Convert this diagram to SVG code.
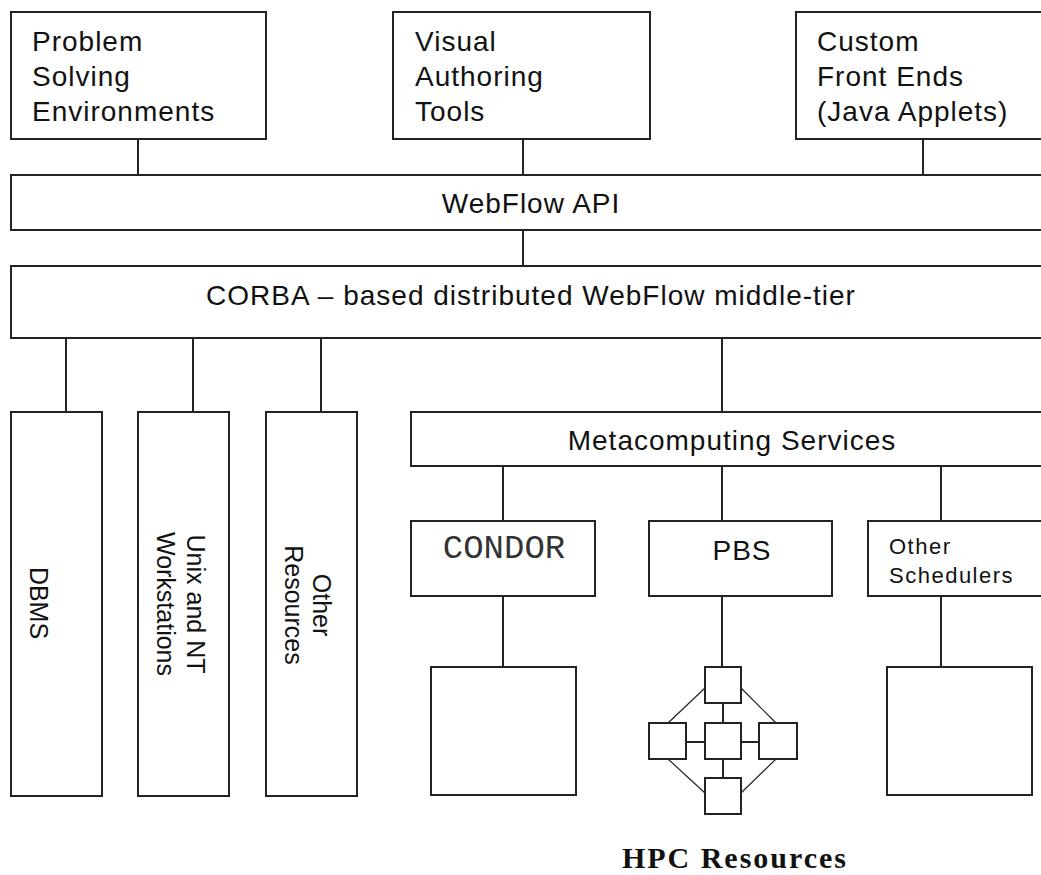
<svg xmlns="http://www.w3.org/2000/svg" width="1041" height="875" viewBox="0 0 1041 875">
  <style>
    .box { fill: #fff; stroke: #222; stroke-width: 2; }
    .ln { stroke: #222; stroke-width: 2; fill: none; }
    .thin { stroke: #222; stroke-width: 1.2; fill: none; }
    .t { font-family: "Liberation Sans", Arial, sans-serif; font-size: 28px; letter-spacing: 1px; fill: #111; }
    .tc { font-family: "Liberation Sans", Arial, sans-serif; font-size: 28px; letter-spacing: 1px; fill: #111; text-anchor: middle; }
    .tr { font-family: "Liberation Sans", Arial, sans-serif; font-size: 25px; fill: #111; text-anchor: middle; }
    .ts { font-family: "Liberation Sans", Arial, sans-serif; font-size: 22px; letter-spacing: 1.5px; fill: #111; }
    .mono { font-family: "Liberation Mono", "Courier New", monospace; font-size: 34px; fill: #333; text-anchor: middle; }
    .serif { font-family: "Liberation Serif", "Times New Roman", serif; font-size: 30px; font-weight: bold; fill: #111; }
  </style>
  <rect width="1041" height="875" fill="#fff"/>

  <g id="connectors">
    <line class="ln" x1="138" y1="139" x2="138" y2="175"/>
    <line class="ln" x1="523" y1="139" x2="523" y2="175"/>
    <line class="ln" x1="923" y1="139" x2="923" y2="175"/>
    <line class="ln" x1="523" y1="230" x2="523" y2="266"/>
    <line class="ln" x1="66" y1="338" x2="66" y2="412"/>
    <line class="ln" x1="193" y1="338" x2="193" y2="412"/>
    <line class="ln" x1="321" y1="338" x2="321" y2="412"/>
    <line class="ln" x1="722" y1="338" x2="722" y2="412"/>
    <line class="ln" x1="503" y1="466" x2="503" y2="521"/>
    <line class="ln" x1="722" y1="466" x2="722" y2="521"/>
    <line class="ln" x1="941" y1="466" x2="941" y2="521"/>
    <line class="ln" x1="503" y1="596" x2="503" y2="667"/>
    <line class="ln" x1="722" y1="596" x2="722" y2="667"/>
    <line class="ln" x1="941" y1="596" x2="941" y2="667"/>
  </g>

  <g id="pse">
    <rect class="box" x="11" y="12" width="255" height="127"/>
    <text class="t" x="32" y="51">Problem</text>
    <text class="t" x="32" y="86">Solving</text>
    <text class="t" x="32" y="121">Environments</text>
  </g>
  <g id="vat">
    <rect class="box" x="393" y="12" width="257" height="127"/>
    <text class="t" x="415" y="51">Visual</text>
    <text class="t" x="415" y="86">Authoring</text>
    <text class="t" x="415" y="121">Tools</text>
  </g>
  <g id="cfe">
    <rect class="box" x="796" y="12" width="260" height="127"/>
    <text class="t" x="817" y="51">Custom</text>
    <text class="t" x="817" y="86">Front Ends</text>
    <text class="t" x="817" y="121">(Java Applets)</text>
  </g>
  <g id="webflow-api">
    <rect class="box" x="11" y="175" width="1045" height="55"/>
    <text class="tc" x="531" y="213">WebFlow API</text>
  </g>
  <g id="corba">
    <rect class="box" x="11" y="266" width="1045" height="72"/>
    <text class="tc" x="531" y="305">CORBA – based distributed WebFlow middle-tier</text>
  </g>
  <g id="dbms">
    <rect class="box" x="11" y="412" width="91" height="384"/>
    <text class="tr" transform="translate(30,603) rotate(90)">DBMS</text>
  </g>
  <g id="unix">
    <rect class="box" x="138" y="412" width="91" height="384"/>
    <g transform="translate(187,604) rotate(90)">
      <text class="tr" x="0" y="0">Unix and NT</text>
      <text class="tr" x="0" y="30">Workstations</text>
    </g>
  </g>
  <g id="other-resources">
    <rect class="box" x="266" y="412" width="91" height="384"/>
    <g transform="translate(313,605) rotate(90)">
      <text class="tr" x="0" y="0">Other</text>
      <text class="tr" x="0" y="28">Resources</text>
    </g>
  </g>
  <g id="metacomputing">
    <rect class="box" x="411" y="412" width="645" height="54"/>
    <text class="tc" x="732" y="450">Metacomputing Services</text>
  </g>
  <g id="condor">
    <rect class="box" x="411" y="521" width="184" height="75"/>
    <text class="mono" x="504" y="558">CONDOR</text>
  </g>
  <g id="pbs">
    <rect class="box" x="649" y="521" width="183" height="75"/>
    <text class="tc" x="742" y="560">PBS</text>
  </g>
  <g id="other-schedulers">
    <rect class="box" x="868" y="521" width="190" height="75"/>
    <text class="ts" x="889" y="554">Other</text>
    <text class="ts" x="889" y="583">Schedulers</text>
  </g>
  <g id="condor-resource">
    <rect class="box" x="431" y="667" width="145" height="128"/>
  </g>
  <g id="pbs-cluster">
    <line class="thin" x1="705" y1="688" x2="668" y2="723"/>
    <line class="thin" x1="741" y1="688" x2="776" y2="723"/>
    <line class="thin" x1="668" y1="759" x2="705" y2="793"/>
    <line class="thin" x1="776" y1="759" x2="741" y2="793"/>
    <line class="ln" x1="723" y1="703" x2="723" y2="723"/>
    <line class="ln" x1="723" y1="759" x2="723" y2="778"/>
    <line class="ln" x1="686" y1="742" x2="705" y2="742"/>
    <line class="ln" x1="741" y1="742" x2="759" y2="742"/>
    <rect class="box" x="705" y="667" width="36" height="36"/>
    <rect class="box" x="649" y="723" width="37" height="36"/>
    <rect class="box" x="705" y="723" width="36" height="36"/>
    <rect class="box" x="759" y="723" width="38" height="36"/>
    <rect class="box" x="705" y="778" width="36" height="36"/>
  </g>
  <g id="scheduler-resource">
    <rect class="box" x="887" y="667" width="145" height="128"/>
  </g>
  <g id="hpc-label">
    <text class="serif" x="622" y="868" textLength="224" lengthAdjust="spacing">HPC Resources</text>
  </g>
</svg>
